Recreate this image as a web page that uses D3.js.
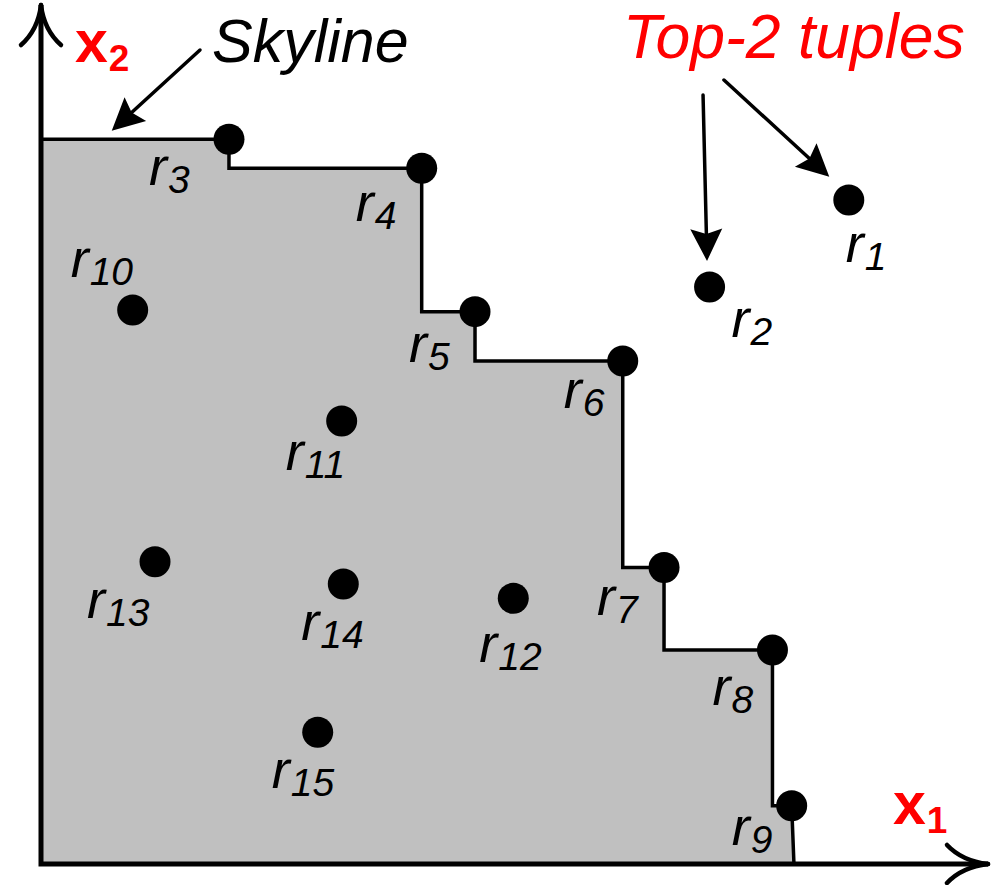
<!DOCTYPE html>
<html>
<head>
<meta charset="utf-8">
<script src="https://cdn.jsdelivr.net/npm/d3@7/dist/d3.min.js"></script>
<style>
  html, body { margin: 0; padding: 0; background: #fff; }
  svg { display: block; }
</style>
</head>
<body>
<script>
// ---------- data (x1, x2 values) ----------
const names   = ["1","2","3","4","5","6","7","8","9","10","11","12","13","14","15"];
const x1Vals  = [8.53, 7.06, 1.985, 4.02, 4.583, 6.143, 6.579, 7.724, 7.927, 0.968, 3.175, 4.987, 1.204, 3.192, 2.922];
const x2Vals  = [7.73, 6.717, 8.437, 8.099, 6.43, 5.856, 3.452, 2.491, 0.679, 6.449, 5.157, 3.093, 3.519, 3.26, 1.533];
const skylineIds = ["3","4","5","6","7","8","9"];
const skylineEnd = { x1: 7.951, x2: 0 };
const topK = ["1","2"];

// ---------- layout ----------
const W = 994, H = 885;
const x = d3.scaleLinear().domain([0, 10]).range([41, 988]);
const y = d3.scaleLinear().domain([0, 10]).range([864, 5]);

// label offsets (pixels) relative to each point
const labelOffsets = {
  "1": [-3, 62], "2": [22, 50], "3": [-80, 46], "4": [-66, 53], "5": [-66, 50],
  "6": [-59, 47], "7": [-67, 48], "8": [-60, 55], "9": [-60, 39], "10": [-62, -33],
  "11": [-56, 49], "12": [-34, 64], "13": [-68, 56], "14": [-42, 56], "15": [-46, 56]
};

// annotation arrows in data units
const arrows = [
  { from: [1.679, 9.476], to: [0.747, 8.537] },
  { from: [6.991, 8.952], to: [7.033, 7.02] },
  { from: [7.212, 9.127], to: [8.324, 8.001] }
];

const pts = names.map((n, i) => ({ id: n, x1: x1Vals[i], x2: x2Vals[i] }));
const byId = Object.fromEntries(pts.map(p => [p.id, p]));

const svg = d3.select("body").append("svg")
  .attr("width", W).attr("height", H)
  .attr("viewBox", `0 0 ${W} ${H}`);
svg.append("rect").attr("width", W).attr("height", H).attr("fill", "#fff");

// ---------- skyline staircase ----------
const sky = skylineIds.map(id => byId[id]);
const stair = [[0, sky[0].x2]];
sky.forEach((p, i) => {
  if (i > 0) stair.push([sky[i - 1].x1, p.x2]);
  stair.push([p.x1, p.x2]);
});
stair.push([skylineEnd.x1, skylineEnd.x2]);

const line = d3.line().x(d => x(d[0])).y(d => y(d[1]));

svg.append("path")
  .attr("d", line([[0, 0], ...stair, [0, 0]]) + "Z")
  .attr("fill", "#c0c0c0")
  .attr("stroke", "none");

svg.append("path")
  .attr("d", line(stair))
  .attr("fill", "none")
  .attr("stroke", "#000")
  .attr("stroke-width", 3.5)
  .attr("stroke-linejoin", "miter");

// ---------- axes ----------
const [x0, xEnd] = x.range();
const [y0, yEnd] = y.range();
svg.append("path")
  .attr("d", `M${x0},${yEnd} L${x0},${y0} L${xEnd},${y0}`)
  .attr("fill", "none").attr("stroke", "#000")
  .attr("stroke-width", 5).attr("stroke-linejoin", "miter");

// curved open arrowheads
const wing = (tx, ty, ex, ey, cx, cy) => `M${ex},${ey} Q${cx},${cy} ${tx},${ty}`;
const axisHeads = [
  wing(x0, yEnd, x0 - 20, yEnd + 40, x0 - 3, yEnd + 25),
  wing(x0, yEnd, x0 + 20, yEnd + 40, x0 + 3, yEnd + 25),
  wing(xEnd, y0, xEnd - 41, y0 - 19, xEnd - 26, y0 - 3),
  wing(xEnd, y0, xEnd - 41, y0 + 19, xEnd - 26, y0 + 3)
];
svg.selectAll("path.axhead").data(axisHeads).join("path")
  .attr("class", "axhead")
  .attr("d", d => d)
  .attr("fill", "none").attr("stroke", "#000")
  .attr("stroke-width", 4.5).attr("stroke-linecap", "round");

// ---------- points ----------
svg.selectAll("circle.pt").data(pts).join("circle")
  .attr("class", "pt")
  .attr("cx", d => x(d.x1)).attr("cy", d => y(d.x2))
  .attr("r", 15.5).attr("fill", "#000");

// ---------- point labels ----------
const lab = svg.selectAll("text.lbl").data(pts).join("text")
  .attr("class", "lbl")
  .attr("x", d => x(d.x1) + labelOffsets[d.id][0])
  .attr("y", d => y(d.x2) + labelOffsets[d.id][1])
  .attr("font-family", "Liberation Sans, Arial, sans-serif")
  .attr("font-style", "italic")
  .attr("font-size", 54)
  .attr("fill", "#000");
lab.append("tspan").text("r");
lab.append("tspan").attr("font-size", 39).attr("dy", 8).attr("dx", 1).text(d => d.id);

// ---------- annotation arrows ----------
arrows.forEach(a => {
  const ax = x(a.from[0]), ay = y(a.from[1]);
  const tx = x(a.to[0]), ty = y(a.to[1]);
  const dx = tx - ax, dy = ty - ay, L = Math.hypot(dx, dy);
  const ux = dx / L, uy = dy / L, nx = -uy, ny = ux;
  const len = 32, hw = 16, notch = 27;
  const bx = tx - ux * len, by = ty - uy * len;
  const mx = tx - ux * notch, my = ty - uy * notch;
  svg.append("line")
    .attr("x1", ax).attr("y1", ay).attr("x2", mx).attr("y2", my)
    .attr("stroke", "#000").attr("stroke-width", 3.5).attr("stroke-linecap", "round");
  svg.append("path")
    .attr("d", `M${tx},${ty} L${bx + nx * hw},${by + ny * hw} L${mx},${my} L${bx - nx * hw},${by - ny * hw} Z`)
    .attr("fill", "#000");
});

// ---------- text annotations ----------
svg.append("text")
  .attr("x", 212).attr("y", 62)
  .attr("font-family", "Liberation Sans, Arial, sans-serif")
  .attr("font-style", "italic").attr("font-size", 61)
  .attr("fill", "#000").text("Skyline");

svg.append("text")
  .attr("x", 623).attr("y", 58)
  .attr("font-family", "Liberation Sans, Arial, sans-serif")
  .attr("font-style", "italic").attr("font-size", 62.5)
  .attr("fill", "#ff0000").text("Top-2 tuples");

const axisLabel = (px, py, sub) => {
  const t = svg.append("text")
    .attr("x", px).attr("y", py)
    .attr("font-family", "Liberation Sans, Arial, sans-serif")
    .attr("font-weight", "bold").attr("font-size", 59)
    .attr("fill", "#ff0000");
  t.append("tspan").text("x");
  t.append("tspan").attr("font-size", 37).attr("dy", 9).attr("dx", 1).text(sub);
};
axisLabel(75, 62, "2");
axisLabel(893, 824, "1");
</script>
</body>
</html>
